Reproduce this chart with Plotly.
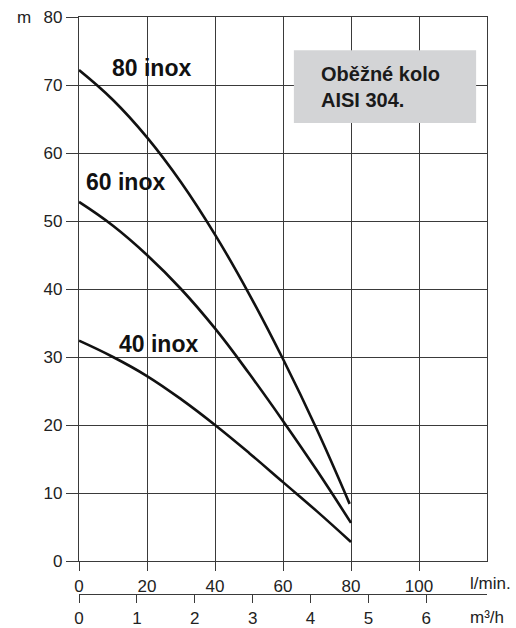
import plotly.graph_objects as go

# Flow (l/min) and head (m)
flow_80 = [0, 10, 20, 30, 40, 50, 60, 70, 79.6]
head_80 = [72.2, 67.8, 62.3, 55.7, 48.0, 39.3, 29.7, 19.3, 8.4]

flow_60 = [0, 10, 20, 30, 40, 50, 60, 70, 80]
head_60 = [52.8, 49.3, 45.0, 40.0, 34.2, 27.6, 20.6, 13.3, 5.6]

flow_40 = [0, 10, 20, 30, 40, 50, 60, 70, 80]
head_40 = [32.4, 30.0, 27.2, 23.8, 20.0, 15.9, 11.6, 7.3, 2.8]

series_names = ["80 inox", "60 inox", "40 inox"]
y_ticks = [0, 10, 20, 30, 40, 50, 60, 70, 80]
x_ticks = [0, 20, 40, 60, 80, 100]
m3h_ticks = [0, 1, 2, 3, 4, 5, 6]

FONT = "Liberation Sans, Arial, sans-serif"
TXT = "#222222"
GRID = "#3a3a3a"

W, H = 516, 628
L, R, T, B = 79, 29, 17, 34
pw, ph = W - L - R, H - T - B


def px2paper(px, py):
    return (px - L) / pw, (H - B - py) / ph


fig = go.Figure()
for fx, hy, name in [(flow_80, head_80, series_names[0]),
                     (flow_60, head_60, series_names[1]),
                     (flow_40, head_40, series_names[2])]:
    fig.add_trace(go.Scatter(x=fx, y=hy, mode="lines", name=name,
                             line=dict(color="#111111", width=2.6, shape="spline", smoothing=1.2),
                             showlegend=False, hoverinfo="skip"))

# invisible trace to activate the m3/h axis
fig.add_trace(go.Scatter(x=[0, 6], y=[None, None], xaxis="x2", yaxis="y",
                         mode="lines", showlegend=False, hoverinfo="skip"))

fig.update_layout(
    width=W, height=H,
    margin=dict(l=L, r=R, t=T, b=B, autoexpand=False),
    paper_bgcolor="white", plot_bgcolor="white",
    font=dict(family=FONT, size=17, color=TXT),
    xaxis=dict(range=[0, 120], tickvals=x_ticks, showgrid=True, gridcolor=GRID, gridwidth=1.2,
               zeroline=False, showline=True, linecolor=GRID, linewidth=1.2, mirror=True,
               ticks="outside", ticklen=9, tickwidth=1.2, tickcolor=GRID, automargin=False,
               anchor="y", tickfont=dict(size=17, color=TXT)),
    yaxis=dict(range=[0, 80], tickvals=y_ticks, domain=[(594 - 561) / ph, 1], showgrid=True,
               gridcolor=GRID, gridwidth=1.2, zeroline=False, showline=True, linecolor=GRID,
               linewidth=1.2, mirror=True, ticks="outside", ticklen=12, tickwidth=1.2,
               automargin=False, tickcolor=GRID, tickfont=dict(size=17, color=TXT)),
    xaxis2=dict(range=[0, 7.05], tickvals=m3h_ticks, overlaying="x", anchor="free", position=0,
                side="bottom", showgrid=False, zeroline=False, showline=True, linecolor=GRID,
                linewidth=1.2, ticks="outside", ticklen=8, tickwidth=1.2, tickcolor=GRID,
                automargin=False, tickfont=dict(size=17, color=TXT)),
)

fig.add_shape(type="rect", xref="x", yref="y", x0=63.2, x1=116.8, y0=64.4, y1=75.1,
              fillcolor="#d3d4d6", line=dict(width=0), layer="above")

label_pos = {"80 inox": (21.3, 72.5), "60 inox": (13.8, 55.7), "40 inox": (23.5, 31.9)}
for name in series_names:
    x, y = label_pos[name]
    fig.add_annotation(x=x, y=y, xref="x", yref="y", showarrow=False, xanchor="center",
                       yanchor="middle", text=f"<b>{name}</b>",
                       font=dict(size=23, color="#111111"))

fig.add_annotation(x=70.6, y=69.7, xref="x", yref="y", showarrow=False, xanchor="left",
                   yanchor="middle", align="left", text="<b>Oběžné kolo<br>AISI 304.</b>",
                   font=dict(size=20, color="#1a1a1a"))

for txt, (px, py) in [("m", (15, 17)), ("l/min.", (468, 583)), ("m³/h", (468, 617))]:
    ax, ay = px2paper(px, py)
    fig.add_annotation(x=ax, y=ay, xref="paper", yref="paper", showarrow=False, text=txt,
                       xanchor="left", yanchor="middle", font=dict(size=17, color=TXT))

fig.write_html("out.html", config={"displayModeBar": False},
               post_script="document.body.style.margin='0';document.body.style.overflow='hidden';")
